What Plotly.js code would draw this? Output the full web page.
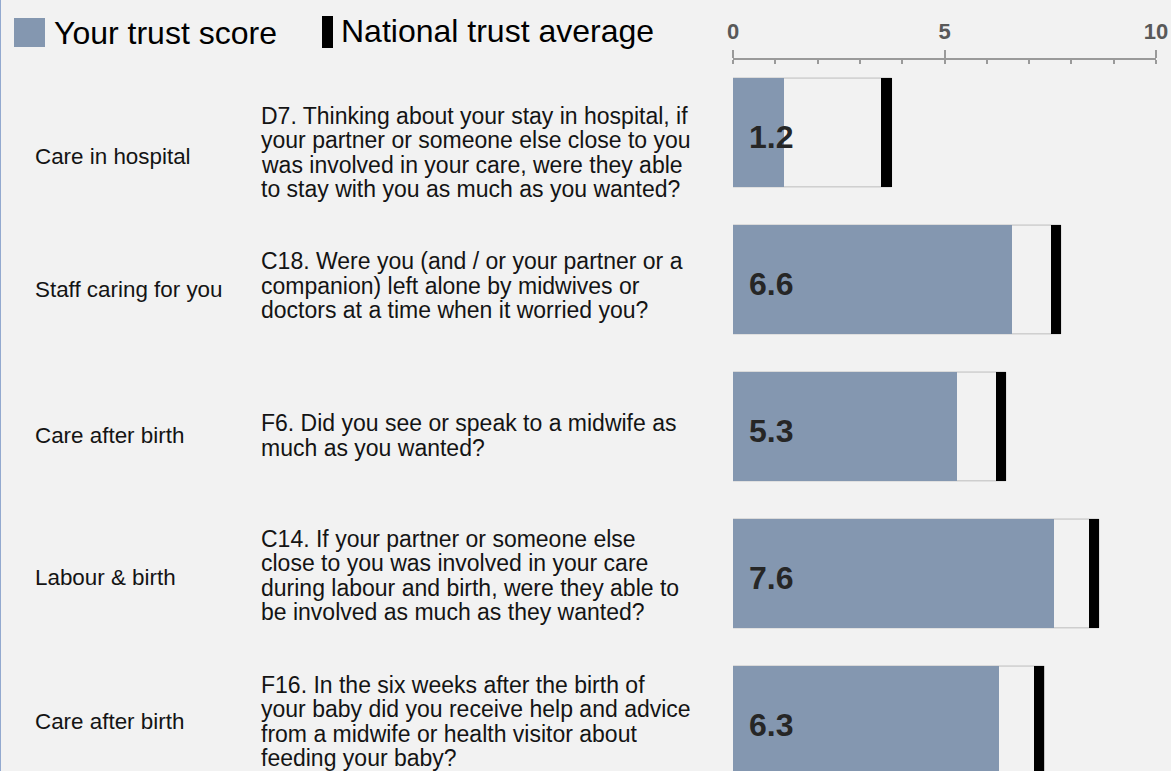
<!DOCTYPE html>
<html>
<head>
<meta charset="utf-8">
<script src="https://cdn.plot.ly/plotly-3.0.1.min.js"></script>
<style>
  html, body { margin: 0; padding: 0; background: #f2f2f2; }
  #chart { width: 1171px; height: 771px; position: relative; }
  #edge { position: absolute; left: 0; top: 0; width: 1px; height: 771px; background: #93a9cf; }
</style>
</head>
<body>
<div id="chart"></div>
<div id="edge"></div>
<script>
// ---- data ----
const sections = ["Care in hospital", "Staff caring for you", "Care after birth", "Labour & birth", "Care after birth"];
const questions = [
  ["D7. Thinking about your stay in hospital, if", "your partner or someone else close to you", "was involved in your care, were they able", "to stay with you as much as you wanted?"],
  ["C18. Were you (and / or your partner or a", "companion) left alone by midwives or", "doctors at a time when it worried you?"],
  ["F6. Did you see or speak to a midwife as", "much as you wanted?"],
  ["C14. If your partner or someone else", "close to you was involved in your care", "during labour and birth, were they able to", "be involved as much as they wanted?"],
  ["F16. In the six weeks after the birth of", "your baby did you receive help and advice", "from a midwife or health visitor about", "feeding your baby?"]
];
const trustScore = [1.2, 6.6, 5.3, 7.6, 6.3];
const nationalAverage = [3.63, 7.63, 6.33, 8.53, 7.24];
const tickValues = [0, 5, 10];
const tickLabels = ["0", "5", "10"];
const legendLabels = ["Your trust score", "National trust average"];

// ---- styling / layout helpers ----
const W = 1171, H = 771;
const FONT = "Liberation Sans, Arial, Helvetica, sans-serif";
const BAR_BLUE = "#8497b0";
const MARK_HALF = 0.12;
const BAR_W = 0.74;
const LINE_GAP = 24.5;
const X = px => px / W;
const Y = py => 1 - py / H;

const rows = sections.map((_, i) => i);
const markerBase = nationalAverage.map(v => v - MARK_HALF);
const markerLen = nationalAverage.map(() => 2 * MARK_HALF);
const boxEnd = nationalAverage.map(v => v + MARK_HALF);

const traces = [
  { type: "bar", orientation: "h", y: rows, x: boxEnd, width: BAR_W,
    marker: { color: "#f2f2f2", line: { color: "#bdbdbd", width: 1 } },
    hoverinfo: "skip", showlegend: false },
  { type: "bar", orientation: "h", y: rows, x: trustScore, width: BAR_W,
    marker: { color: BAR_BLUE, line: { width: 0 } },
    name: legendLabels[0], showlegend: false },
  { type: "bar", orientation: "h", y: rows, x: markerLen, base: markerBase, width: BAR_W,
    marker: { color: "#000000", line: { width: 0 } },
    name: legendLabels[1], showlegend: false }
];

// text offsets (px, downward) of label / question blocks relative to bar centres
const labelShift = [24.5, 10.5, 9.5, 4.5, 1.5];
const questionShift = [20, 6.5, 9, 2, 1];

const annotations = [];
rows.forEach(i => {
  annotations.push({ xref: "paper", yref: "y", x: X(33), y: i, yshift: -labelShift[i],
    xanchor: "left", yanchor: "middle", showarrow: false, align: "left",
    text: sections[i], font: { family: FONT, size: 22.4, color: "#141414" } });
  const lines = questions[i];
  lines.forEach((ln, k) => {
    const off = questionShift[i] + (k - (lines.length - 1) / 2) * LINE_GAP;
    annotations.push({ xref: "paper", yref: "y", x: X(259), y: i, yshift: -off,
      xanchor: "left", yanchor: "middle", showarrow: false, align: "left",
      text: ln, font: { family: FONT, size: 23, color: "#141414" } });
  });
  annotations.push({ xref: "x", yref: "y", x: 0, y: i, xshift: 14, yshift: -5,
    xanchor: "left", yanchor: "middle", showarrow: false,
    text: "<b>" + trustScore[i].toFixed(1) + "</b>",
    font: { family: FONT, size: 32, color: "#262626" } });
});
// legend texts
annotations.push({ xref: "paper", yref: "paper", x: X(52), y: Y(33), xanchor: "left", yanchor: "middle",
  showarrow: false, text: legendLabels[0], font: { family: FONT, size: 32, color: "#000" } });
annotations.push({ xref: "paper", yref: "paper", x: X(339), y: Y(31), xanchor: "left", yanchor: "middle",
  showarrow: false, text: legendLabels[1], font: { family: FONT, size: 32, color: "#000" } });

const shapes = [
  { type: "rect", xref: "paper", yref: "paper", x0: X(14), x1: X(45), y0: Y(18), y1: Y(47),
    fillcolor: BAR_BLUE, line: { width: 0 } },
  { type: "rect", xref: "paper", yref: "paper", x0: X(322), x1: X(333), y0: Y(16), y1: Y(48),
    fillcolor: "#000", line: { width: 0 } }
];

const layout = {
  width: W, height: H, autosize: false,
  margin: { l: 0, r: 0, t: 0, b: 0, pad: 0 },
  paper_bgcolor: "#f2f2f2", plot_bgcolor: "#f2f2f2",
  barmode: "overlay", bargap: 0,
  showlegend: false,
  xaxis: {
    domain: [X(733), X(1156)], range: [0, 10], side: "top", anchor: "y",
    showgrid: false, zeroline: false, showline: true, linecolor: "#9a9a9a", linewidth: 2,
    tickmode: "array", tickvals: tickValues, ticktext: tickLabels.map(t => "<b>" + t + "</b>"),
    ticks: "outside", ticklen: 8, tickwidth: 2, tickcolor: "#9a9a9a",
    ticklabelstandoff: 2,
    tickfont: { family: FONT, size: 22, color: "#595959" },
    minor: { dtick: 1, ticks: "inside", ticklen: 4, tickwidth: 2, tickcolor: "#9a9a9a", showgrid: false },
    fixedrange: true
  },
  xaxis2: {
    domain: [X(733), X(1156)], range: [0, 10], side: "top", anchor: "y", overlaying: "x",
    showgrid: false, zeroline: false, showline: false,
    tickmode: "array", tickvals: tickValues, showticklabels: false,
    ticks: "inside", ticklen: 4, tickwidth: 2, tickcolor: "#9a9a9a"
  },
  yaxis: {
    domain: [0, Y(60)], range: [4.344, -0.493],
    visible: false, showgrid: false, zeroline: false, fixedrange: true
  },
  annotations: annotations,
  shapes: shapes
};

// invisible trace to activate xaxis2
traces.push({ type: "scatter", x: [0], y: [0], xaxis: "x2", mode: "markers",
  marker: { opacity: 0 }, hoverinfo: "skip", showlegend: false });

Plotly.newPlot("chart", traces, layout, { displayModeBar: false, staticPlot: true });
</script>
</body>
</html>
